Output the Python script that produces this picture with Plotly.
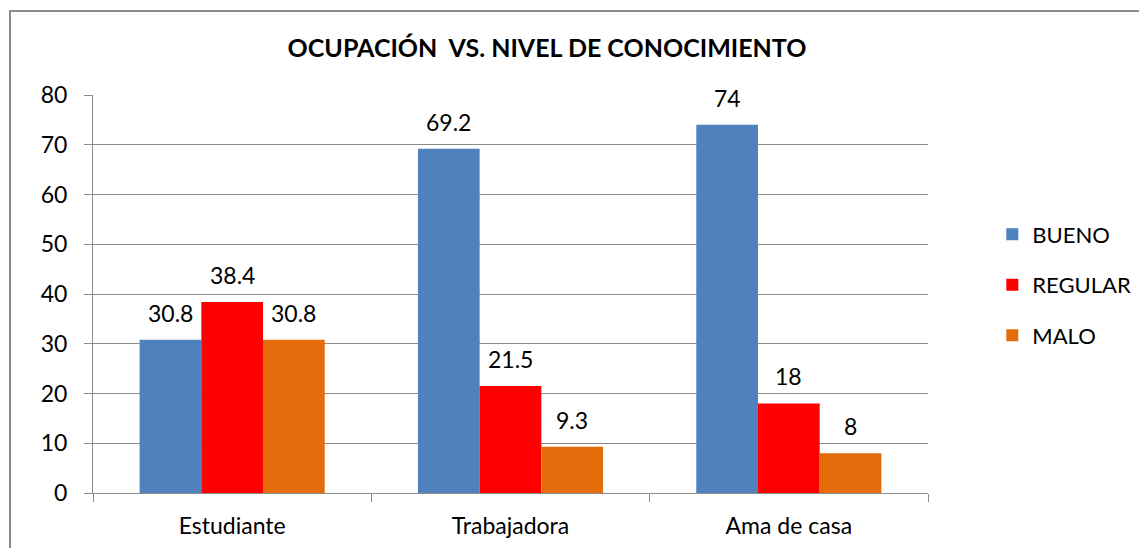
import plotly.graph_objects as go

categories = ["Estudiante", "Trabajadora", "Ama de casa"]
bueno = [30.8, 69.2, 74]
regular = [38.4, 21.5, 18]
malo = [30.8, 9.3, 8]
series_names = ["BUENO", "REGULAR", "MALO"]
colors = ["#4F81BD", "#FF0000", "#E46C0A"]
y_ticks = [0, 10, 20, 30, 40, 50, 60, 70, 80]

FONT = "Lato, 'Open Sans', sans-serif"

# page body has an 8px default margin; compensate
L, R, T, B = 85, 227, 87, 63
W, H = 1147, 548
plot_w = W - L - R
bargap = 0.335
bar_px = plot_w / 3 * (1 - bargap) / 3

fig = go.Figure()
all_vals = [bueno, regular, malo]
for i, (name, vals, col) in enumerate(zip(series_names, all_vals, colors)):
    fig.add_trace(go.Bar(
        x=categories, y=vals, name=name, marker_color=col,
        marker_line_width=0, legendgroup=name,
    ))
    for cat, v in zip(categories, vals):
        fig.add_annotation(x=cat, y=v, text=f"{v:g}", showarrow=False,
                           xshift=(i - 1) * bar_px, yshift=27,
                           yanchor="middle", xanchor="center",
                           font=dict(size=23, color="#000000", family=FONT))

fig.update_layout(
    width=W, height=H,
    margin=dict(l=L, r=R, t=T, b=B),
    paper_bgcolor="white", plot_bgcolor="white",
    barmode="group", bargap=bargap, bargroupgap=0,
    font=dict(family=FONT, size=23, color="#000000"),
    title=dict(text="<b>OCUPACIÓN  VS. NIVEL DE CONOCIMIENTO</b>",
               x=539/W, xanchor="center", xref="container",
               y=1-40/H, yanchor="middle", yref="container",
               font=dict(size=25, family=FONT, color="#000000")),
    legend=dict(x=1.077, y=0.523, xanchor="left", yanchor="middle",
                font=dict(size=22, family=FONT), tracegroupgap=19,
                itemwidth=30, traceorder="grouped"),
    showlegend=True,
)
fig.update_yaxes(range=[0, 80], tickvals=y_ticks, showgrid=True,
                 gridcolor="#8C8C8C", gridwidth=1, showline=True,
                 linecolor="#8C8C8C", linewidth=1, ticks="outside",
                 ticklen=8, tickcolor="#8C8C8C", zeroline=False,
                 ticklabelstandoff=12,
                 tickfont=dict(size=23, family=FONT))
fig.update_xaxes(showline=True, linecolor="#8C8C8C", linewidth=1,
                 ticks="outside", tickson="boundaries", ticklen=8,
                 tickcolor="#8C8C8C", showgrid=False,
                 ticklabelstandoff=12,
                 tickfont=dict(size=23, family=FONT))

# outer chart frame
plot_h = H - T - B
fig.add_shape(type="rect", xref="paper", yref="paper",
              x0=(10 - 93) / plot_w, x1=1.5, y0=-0.3,
              y1=(493 - 11) / plot_h,
              line=dict(color="#8C8C8C", width=2), layer="below")

fig.write_html("out.html")
